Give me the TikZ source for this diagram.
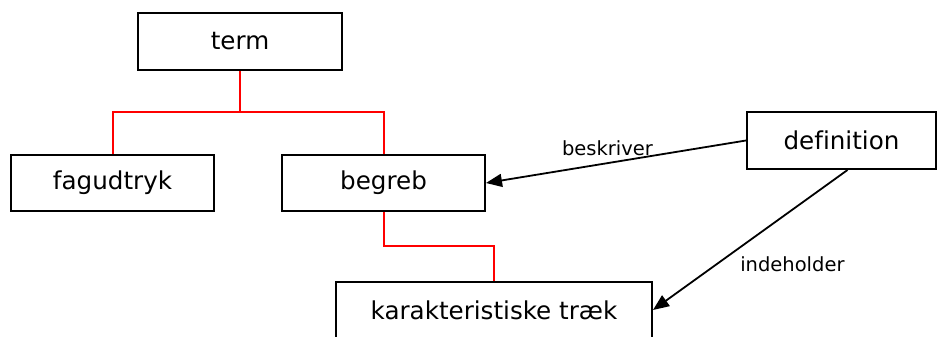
\documentclass[tikz,border=0pt]{standalone}
\usepackage{fontspec}
\setmainfont[Ligatures=NoCommon]{DejaVu Sans}
\usetikzlibrary{arrows.meta}
\tikzset{
  box/.style={draw=black, line width=2pt, rectangle, inner sep=0pt, fill=white,
    font=\fontsize{24.6}{29}\selectfont},
  tree/.style={draw=red, line width=2pt},
  rel/.style={draw=black, line width=1.8pt, -{Triangle[length=16pt,width=13pt]}},
  lbl/.style={font=\fontsize{19.5}{23}\selectfont, inner sep=0pt},
}
\begin{document}
\begin{tikzpicture}[x=1pt,y=-1pt]
\useasboundingbox (0,0) rectangle (937,337);
\clip (0,0) rectangle (937,337);
\fill[white] (0,0) rectangle (937,337);
\node[box, minimum width=204pt, minimum height=57pt] (term) at (240,41.5) {term};
\node[box, minimum width=203pt, minimum height=56pt] (fag) at (112.5,183) {fagudtryk};
\node[box, minimum width=203pt, minimum height=56pt] (beg) at (383.5,183) {begreb};
\node[box, minimum width=189pt, minimum height=57pt] (def) at (841.5,140.5) {definition};
\node[box, minimum width=316pt, minimum height=56pt] (kar) at (494,310) {karakteristiske træk};
\coordinate (j1) at (240,112);
\coordinate (j2) at (383.5,246);
\draw[tree] (term.south) -- (j1) -| (fag.north);
\draw[tree] (j1) -| (beg.north);
\draw[tree] (beg.south) -- (j2) -| (kar.north);
\draw[rel] (def.west) -- node[lbl, pos=0.533, yshift=15pt] {beskriver} (beg.east);
\draw[rel] ([xshift=6pt]def.south) -- node[lbl, pos=0.674, xshift=76pt] {indeholder} (kar.east);
\end{tikzpicture}
\end{document}
